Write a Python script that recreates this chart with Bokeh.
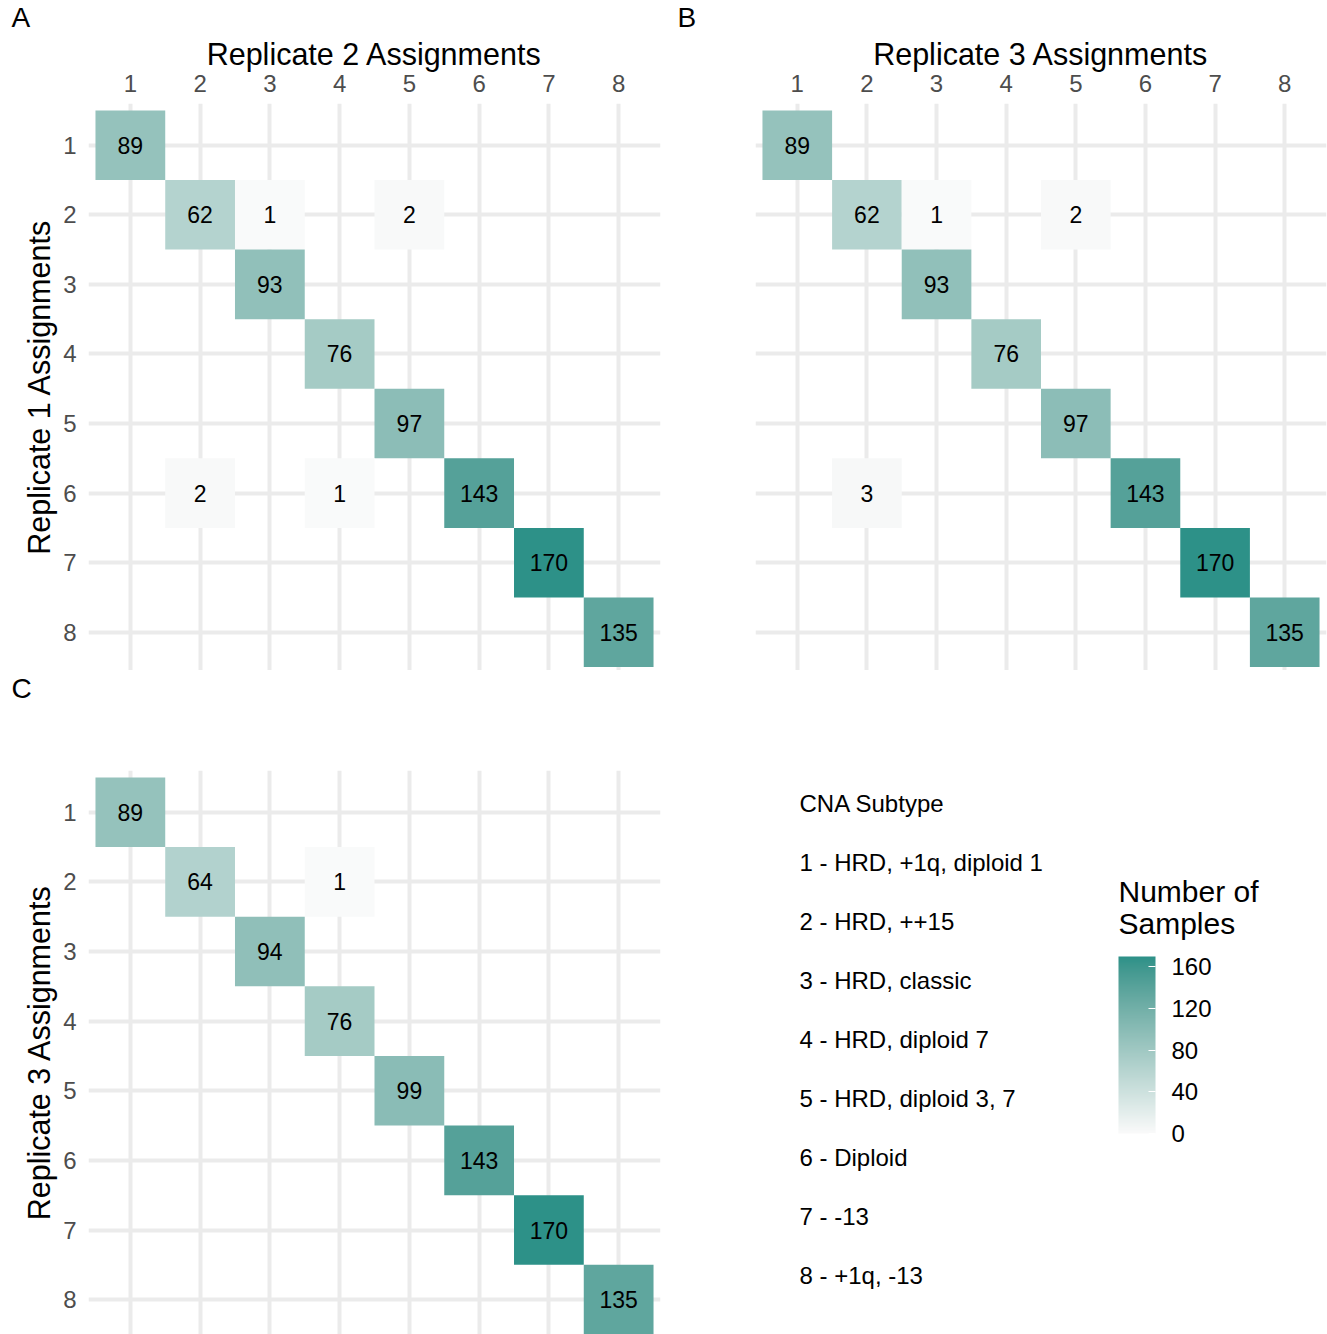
import numpy as np
from bokeh.plotting import figure
from bokeh.models import (Range1d, FixedTicker, ColumnDataSource, LinearColorMapper,
                          ColorBar)
from bokeh.layouts import row, column
from bokeh.transform import transform
from bokeh.core.properties import value
from bokeh.embed import file_html
from bokeh.resources import INLINE

# ---------------- data ----------------
subtype_ids = ["1", "2", "3", "4", "5", "6", "7", "8"]
subtype_names = ["HRD, +1q, diploid 1", "HRD, ++15", "HRD, classic", "HRD, diploid 7",
                 "HRD, diploid 3, 7", "Diploid", "-13", "+1q, -13"]

# Panel A: replicate 1 (rows) vs replicate 2 (columns)
a_rows = [1, 2, 2, 2, 3, 4, 5, 6, 6, 6, 7, 8]
a_cols = [1, 2, 3, 5, 3, 4, 5, 2, 4, 6, 7, 8]
a_vals = [89, 62, 1, 2, 93, 76, 97, 2, 1, 143, 170, 135]

# Panel B: replicate 1 (rows) vs replicate 3 (columns)
b_rows = [1, 2, 2, 2, 3, 4, 5, 6, 6, 7, 8]
b_cols = [1, 2, 3, 5, 3, 4, 5, 2, 6, 7, 8]
b_vals = [89, 62, 1, 2, 93, 76, 97, 3, 143, 170, 135]

# Panel C: replicate 3 (rows) vs replicate 2 (columns)
c_rows = [1, 2, 2, 3, 4, 5, 6, 7, 8]
c_cols = [1, 2, 4, 3, 4, 5, 6, 7, 8]
c_vals = [89, 64, 1, 94, 76, 99, 143, 170, 135]

colorbar_ticks = [0, 40, 80, 120, 160]
low_color = "#FAFAFA"
high_color = "#2D9188"
FONT = "Liberation Sans"

# ---------------- colour scale (Lab interpolation like ggplot) ----------------
WHITE = np.array([0.95047, 1.0, 1.08883])
M = np.array([[0.4124564, 0.3575761, 0.1804375],
              [0.2126729, 0.7151522, 0.0721750],
              [0.0193339, 0.1191920, 0.9503041]])


def hex_to_lab(h):
    c = np.array([int(h[i:i + 2], 16) for i in (1, 3, 5)]) / 255.0
    lin = np.where(c <= 0.04045, c / 12.92, ((c + 0.055) / 1.055) ** 2.4)
    xyz = M @ lin / WHITE
    d = 6 / 29
    f = np.where(xyz > d ** 3, np.cbrt(xyz), xyz / (3 * d * d) + 4 / 29)
    return np.array([116 * f[1] - 16, 500 * (f[0] - f[1]), 200 * (f[1] - f[2])])


def lab_to_hex(lab):
    L, a, b = lab
    fy = (L + 16) / 116
    fx = fy + a / 500
    fz = fy - b / 200
    d = 6 / 29
    f = np.array([fx, fy, fz])
    xyz = np.where(f > d, f ** 3, 3 * d * d * (f - 4 / 29)) * WHITE
    lin = np.clip(np.linalg.solve(M, xyz), 0, 1)
    c = np.where(lin <= 0.0031308, 12.92 * lin, 1.055 * lin ** (1 / 2.4) - 0.055)
    c = np.clip(np.round(c * 255), 0, 255).astype(int)
    return "#%02X%02X%02X" % tuple(c)


lab_lo, lab_hi = hex_to_lab(low_color), hex_to_lab(high_color)
palette = [lab_to_hex(lab_lo + (lab_hi - lab_lo) * t) for t in np.linspace(0, 1, 256)]
vmax = max(a_vals + b_vals + c_vals)
mapper = LinearColorMapper(palette=palette, low=0, high=vmax)

positions = list(range(1, len(subtype_ids) + 1))


def style_axis(ax, label):
    ax.ticker = FixedTicker(ticks=positions)
    ax.major_label_overrides = {p: s for p, s in zip(positions, subtype_ids)}
    ax.axis_line_color = None
    ax.major_tick_line_color = None
    ax.minor_tick_line_color = None
    ax.major_label_text_font = FONT
    ax.major_label_text_font_size = "24px"
    ax.major_label_text_color = "#4D4D4D"
    ax.axis_label = label
    ax.axis_label_text_font = FONT
    ax.axis_label_text_font_size = "30.5px"
    ax.axis_label_text_font_style = "normal"
    ax.axis_label_text_color = "black"


def blank(width, height, xr, yr, **kw):
    p = figure(width=width, height=height, x_range=Range1d(*xr), y_range=Range1d(*yr),
               output_backend="svg", toolbar_location=None, **kw)
    p.axis.visible = False
    p.grid.visible = False
    p.outline_line_color = None
    return p


def panel(rows, cols, vals, width, height, left, right, top, bottom, y_end,
          xlabel, ylabel):
    p = figure(width=width, height=height,
               x_range=Range1d(0.4, 8.6), y_range=Range1d(y_end, 0.4),
               x_axis_location="above", output_backend="svg", toolbar_location=None,
               min_border_left=left, min_border_right=right,
               min_border_top=top, min_border_bottom=bottom)
    p.outline_line_color = None
    for g in (p.xgrid, p.ygrid):
        g.ticker = FixedTicker(ticks=positions)
        g.grid_line_color = "#EBEBEB"
        g.grid_line_width = 4
        g.minor_grid_line_color = None

    style_axis(p.xaxis[0], xlabel or "")
    style_axis(p.yaxis[0], ylabel or "")
    p.xaxis.major_label_standoff = 6
    p.xaxis.axis_label_standoff = 1
    p.yaxis.major_label_standoff = 6
    p.yaxis.axis_label_standoff = 4
    if xlabel is None:
        p.xaxis.visible = False
    if ylabel is None:
        p.yaxis.visible = False

    src = ColumnDataSource(dict(row=rows, col=cols, val=vals, txt=[str(v) for v in vals]))
    p.rect(x="col", y="row", width=1, height=1, source=src,
           fill_color=transform("val", mapper), line_color=None)
    p.text(x="col", y="row", text="txt", source=src, text_align="center",
           text_baseline="middle", text_font_size="23px", text_font=value(FONT),
           text_color="black")
    return p


# strips carrying the panel letters
stripAB = blank(1327, 33, (0, 1327), (33, 0), min_border=0)
stripAB.text(x=[11, 677], y=[17.3, 17.3], text=["A", "B"], text_align="left",
             text_baseline="middle", text_font_size="28px", text_font=value(FONT),
             text_color="black")
stripC = blank(1327, 42, (0, 1327), (712, 670), min_border=0)
stripC.text(x=[11], y=[688], text=["C"], text_align="left",
            text_baseline="middle", text_font_size="28px", text_font=value(FONT),
            text_color="black")

# top panels: frame y 103..670 (range 0.4..8.55), figures span y 33..670
pA = panel(a_rows, a_cols, a_vals, 664, 637, 88, 4, 70, 0, 8.55,
           "Replicate 2 Assignments", "Replicate 1 Assignments")
pB = panel(b_rows, b_cols, b_vals, 663, 637, 91, 1, 70, 0, 8.55,
           "Replicate 3 Assignments", None)
# bottom panel: frame y 770..1334
pC = panel(c_rows, c_cols, c_vals, 664, 622, 88, 4, 58, 0, 8.5,
           None, "Replicate 3 Assignments")

# ---------------- legend panel (frame spans x 664..1327, y 770..1334) ----------------
pL = blank(663, 622, (664, 1327), (1334, 770), min_border_left=0, min_border_right=0,
           min_border_top=58, min_border_bottom=0)

legend_lines = ["CNA Subtype"] + [f"{i} - {n}" for i, n in zip(subtype_ids, subtype_names)]
pL.text(x=[799] * len(legend_lines), y=[803 + 59 * k for k in range(len(legend_lines))],
        text=legend_lines, text_align="left", text_baseline="middle",
        text_font_size="24px", text_font=value(FONT), text_color="black")

pL.text(x=[1118, 1118], y=[891, 923], text=["Number of", "Samples"], text_align="left",
        text_baseline="middle", text_font_size="30px", text_font=value(FONT),
        text_color="black")

cb = ColorBar(color_mapper=mapper, width=37, height=177, location=(454, 201),
              padding=0, margin=0, ticker=FixedTicker(ticks=colorbar_ticks),
              major_label_text_font=FONT, major_label_text_font_size="24px",
              major_label_text_color="black", label_standoff=16,
              major_tick_line_color="white", major_tick_in=7, major_tick_out=0,
              bar_line_color=None, border_line_color=None, background_fill_color=None)
pL.add_layout(cb, "center")

layout = column(stripAB, row(pA, pB), stripC, row(pC, pL))
open("out.html", "w").write(file_html(layout, INLINE))
